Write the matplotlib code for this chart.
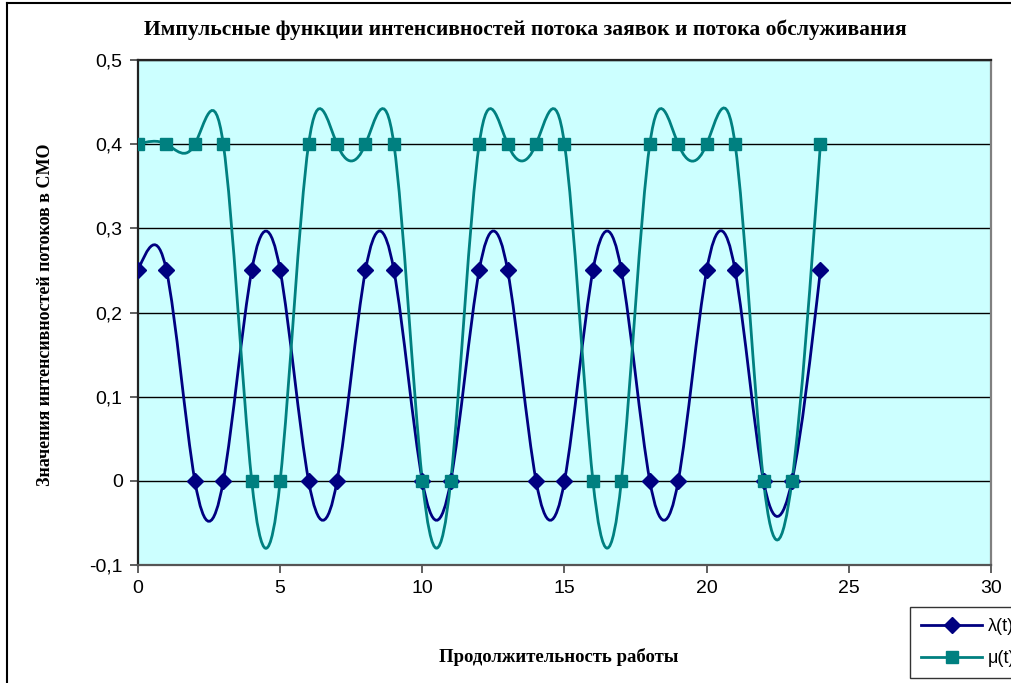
import numpy as np
import matplotlib
matplotlib.use("Agg")
import matplotlib.pyplot as plt
from matplotlib.path import Path
from matplotlib.patches import PathPatch
from matplotlib.lines import Line2D
from matplotlib.ticker import FuncFormatter

t = list(range(0, 25))
lam = [0.25, 0.25, 0, 0, 0.25, 0.25, 0, 0, 0.25, 0.25, 0, 0, 0.25,
       0.25, 0, 0, 0.25, 0.25, 0, 0, 0.25, 0.25, 0, 0, 0.25]
mu = [0.4, 0.4, 0.4, 0.4, 0, 0, 0.4, 0.4, 0.4, 0.4, 0, 0, 0.4,
      0.4, 0.4, 0.4, 0, 0, 0.4, 0.4, 0.4, 0.4, 0, 0, 0.4]
series_names = ["λ(t)", "μ(t)"]

title = "Импульсные функции интенсивностей потока заявок и потока обслуживания"
xlabel = "Продолжительность работы"
ylabel = "Значения интенсивностей потоков в СМО"

NAVY = "#000080"
TEAL = "#008080"


def spline_path(x, y):
    # natural cubic spline through the points, written as bezier segments
    x = np.asarray(x, float)
    y = np.asarray(y, float)
    n = len(x)
    h = np.diff(x)
    d = np.diff(y) / h
    A = np.zeros((n, n))
    b = np.zeros(n)
    A[0, 0], A[0, 1], b[0] = 2, 1, 3 * d[0]
    A[-1, -2], A[-1, -1], b[-1] = 1, 2, 3 * d[-1]
    for i in range(1, n - 1):
        A[i, i - 1] = h[i]
        A[i, i] = 2 * (h[i - 1] + h[i])
        A[i, i + 1] = h[i - 1]
        b[i] = 3 * (h[i] * d[i - 1] + h[i - 1] * d[i])
    m = np.linalg.solve(A, b)
    verts = [(x[0], y[0])]
    codes = [Path.MOVETO]
    for i in range(n - 1):
        k = h[i] / 3
        verts += [(x[i] + k, y[i] + k * m[i]),
                  (x[i + 1] - k, y[i + 1] - k * m[i + 1]),
                  (x[i + 1], y[i + 1])]
        codes += [Path.CURVE4] * 3
    return Path(verts, codes)


fig = plt.figure(figsize=(10.12, 6.83), dpi=100)
ax = fig.add_axes([138 / 1012, 1 - 565 / 683, 853 / 1012, 505 / 683])
ax.set_facecolor("#CCFFFF")

ax.set_xlim(0, 30)
ax.set_ylim(-0.1, 0.5)
ax.set_xticks(range(0, 31, 5))
ax.set_yticks(np.arange(-0.1, 0.51, 0.1))
ax.yaxis.set_major_formatter(
    FuncFormatter(lambda v, p: ("%g" % round(v, 2)).replace(".", ",")))
ax.grid(axis="y", color="black", linewidth=1.0)
ax.set_axisbelow(True)

for s, col in [("left", "#222222"), ("top", "#222222"),
               ("right", "#808080"), ("bottom", "#555555")]:
    ax.spines[s].set_color(col)
    ax.spines[s].set_linewidth(1.6)

ax.tick_params(axis="both", direction="out", length=6, width=1.2,
               color="#444444", labelsize=14, pad=5)
for lbl in ax.get_xticklabels() + ax.get_yticklabels():
    lbl.set_family("Liberation Sans")

for y, col, mk, ms in [(lam, NAVY, "D", 8), (mu, TEAL, "s", 8.5)]:
    ax.add_patch(PathPatch(spline_path(t, y), facecolor="none",
                           edgecolor=col, linewidth=2.0, zorder=3))
    ax.plot(t, y, linestyle="none", marker=mk, markersize=ms, color=col,
            zorder=4)

fig.text(525 / 1012, 1 - 30 / 683, title, ha="center", va="center",
         family="Liberation Serif", fontweight="bold", fontsize=15.5)
fig.text(559 / 1012, 1 - 657 / 683, xlabel, ha="center", va="center",
         family="Liberation Serif", fontweight="bold", fontsize=13.5)
fig.text(46 / 1012, 1 - 315 / 683, ylabel, ha="center", va="center",
         rotation=90, family="Liberation Serif", fontweight="bold",
         fontsize=13)

handles = [Line2D([], [], color=NAVY, marker="D", markersize=8, lw=2),
           Line2D([], [], color=TEAL, marker="s", markersize=8.5, lw=2)]
leg = fig.legend(handles, series_names, loc="upper left",
                 bbox_to_anchor=(910 / 1012, 1 - 607 / 683),
                 prop={"family": "Liberation Sans", "size": 13},
                 frameon=True, fancybox=False, handlelength=3.4,
                 borderpad=0.6, labelspacing=0.85, handletextpad=0.3,
                 borderaxespad=0)
leg.get_frame().set_edgecolor("black")
leg.get_frame().set_linewidth(1.0)

# chart frame (top and left edges are visible)
fig.add_artist(Line2D([7 / 1012, 1], [1 - 3 / 683, 1 - 3 / 683],
                      transform=fig.transFigure, color="black", lw=1.5))
fig.add_artist(Line2D([7 / 1012, 7 / 1012], [0, 1 - 3 / 683],
                      transform=fig.transFigure, color="black", lw=1.5))

fig.savefig("out.png", dpi=100)
